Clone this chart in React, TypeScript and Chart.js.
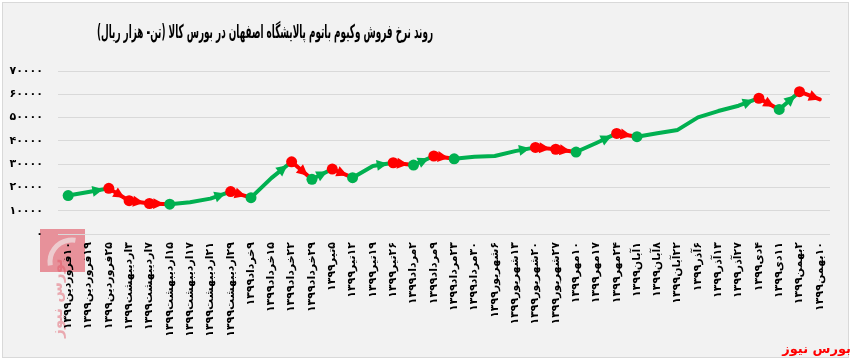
import React, { useEffect, useRef } from 'react';
import { Chart, registerables } from 'chart.js';

Chart.register(...registerables);

const titleText = 'روند نرخ فروش وکیوم باتوم پالایشگاه اصفهان در بورس کالا (تن- هزار ریال)';
const sourceText = 'بورس نیوز';

const categories = [
  '۱۰فروردین۱۳۹۹', '۱۹فروردین۱۳۹۹', '۲۵فروردین۱۳۹۹', '۳اردیبهشت۱۳۹۹', '۷اردیبهشت۱۳۹۹',
  '۱۵اردیبهشت۱۳۹۹', '۱۷اردیبهشت۱۳۹۹', '۲۱اردیبهشت۱۳۹۹', '۲۹اردیبهشت۱۳۹۹', '۹خرداد۱۳۹۹',
  '۱۵خرداد۱۳۹۹', '۲۲خرداد۱۳۹۹', '۲۹خرداد۱۳۹۹', '۵تیر۱۳۹۹', '۱۲تیر۱۳۹۹',
  '۱۹تیر۱۳۹۹', '۲۶تیر۱۳۹۹', '۲مرداد۱۳۹۹', '۹مرداد۱۳۹۹', '۲۳مرداد۱۳۹۹',
  '۳۰مرداد۱۳۹۹', '۶شهریور۱۳۹۹', '۱۳شهریور۱۳۹۹', '۲۰شهریور۱۳۹۹', '۲۷شهریور۱۳۹۹',
  '۱۰مهر۱۳۹۹', '۱۷مهر۱۳۹۹', '۲۴مهر۱۳۹۹', '۱آبان۱۳۹۹', '۸آبان۱۳۹۹',
  '۲۲آبان۱۳۹۹', '۶آذر۱۳۹۹', '۱۳آذر۱۳۹۹', '۲۷آذر۱۳۹۹', '۴دی۱۳۹۹',
  '۱۱دی۱۳۹۹', '۲بهمن۱۳۹۹', '۱۰بهمن۱۳۹۹',
];

const prices = [
  16500, 18000, 19600, 14300, 13100,
  12800, 13600, 15200, 18200, 15600,
  24000, 31000, 23500, 27900, 24200,
  29200, 30600, 29600, 33500, 32300,
  33200, 33500, 35600, 37200, 36400,
  35200, 39100, 43200, 41800, 43300,
  44700, 50100, 52800, 55100, 58300,
  53500, 61100, 57800,
];

const yMin = 0;
const yMax = 70000;
const yStep = 10000;

const GREEN = '#00B050';
const RED = '#FF0000';
const FONT = '"DejaVu Sans", sans-serif';
const MARKER_R = 5.5;

const faDigits = '۰۱۲۳۴۵۶۷۸۹';
const toFa = (v: number | string) => String(v).replace(/\d/g, (d) => faDigits[+d]);

const isDown = (i: number) => prices[i + 1] < prices[i];
const markerColor = (i: number): string | null => {
  if (i >= prices.length - 1) return null;
  if (isDown(i)) return RED;
  if (i === 0 || isDown(i - 1)) return GREEN;
  return null;
};

const drawFitted = (ctx: any, text: string, cx: number, cy: number, maxW: number) => {
  const w = ctx.measureText(text).width;
  const s = w > maxW ? maxW / w : 1;
  ctx.save();
  ctx.translate(cx, cy);
  ctx.scale(s, 1);
  ctx.fillText(text, 0, 0);
  ctx.restore();
};

const framePlugin = {
  id: 'frame',
  beforeDraw(chart: any) {
    const { ctx, width, height } = chart;
    ctx.save();
    ctx.fillStyle = '#FFFFFF';
    ctx.fillRect(0, 0, width, height);
    ctx.fillStyle = '#F2F2F2';
    ctx.fillRect(2, 2, width - 6, height - 7);
    ctx.strokeStyle = '#D9D9D9';
    ctx.lineWidth = 1;
    ctx.strokeRect(2.5, 2.5, width - 7, height - 8);

    // watermark logo
    ctx.globalAlpha = 0.6;
    ctx.fillStyle = '#E0505F';
    ctx.fillRect(40, 229, 45, 43);
    ctx.strokeStyle = '#F2F2F2';
    ctx.lineWidth = 5;
    ctx.beginPath();
    ctx.arc(72, 262, 22, Math.PI * 0.95, Math.PI * 1.55);
    ctx.stroke();
    ctx.globalAlpha = 0.45;
    ctx.fillStyle = '#E0505F';
    ctx.translate(58, 298);
    ctx.rotate(-Math.PI / 2);
    ctx.font = `bold 15px ${FONT}`;
    ctx.direction = 'rtl';
    ctx.textAlign = 'center';
    ctx.textBaseline = 'middle';
    ctx.fillText(sourceText, 0, 0);
    ctx.restore();

    // title
    ctx.save();
    ctx.direction = 'rtl';
    ctx.font = `bold 19px ${FONT}`;
    ctx.fillStyle = '#000000';
    ctx.textAlign = 'center';
    ctx.textBaseline = 'middle';
    drawFitted(ctx, titleText, 265, 33, 336);
    ctx.restore();

    // source
    ctx.save();
    ctx.direction = 'rtl';
    ctx.font = `bold 13px ${FONT}`;
    ctx.fillStyle = RED;
    ctx.textAlign = 'right';
    ctx.textBaseline = 'middle';
    ctx.fillText(sourceText, 851, 350);
    ctx.restore();
  },
};

const arrowPlugin = {
  id: 'arrows',
  afterDatasetsDraw(chart: any) {
    const meta = chart.getDatasetMeta(0);
    const pts = meta.data;
    const ctx = chart.ctx;
    ctx.save();
    for (let i = 0; i < pts.length - 1; i++) {
      const down = isDown(i);
      const endOfRun = down || i + 1 === pts.length - 1 || isDown(i + 1);
      if (!endOfRun) continue;
      const p = pts[i + 1];
      const q = pts[i];
      const len = Math.hypot(p.x - q.x, p.y - q.y) || 1;
      const ux = (p.x - q.x) / len;
      const uy = (p.y - q.y) / len;
      const r = markerColor(i + 1) ? MARKER_R : 0;
      const tx = p.x - ux * r;
      const ty = p.y - uy * r;
      const L = 11;
      const W = 5.5;
      const bx = tx - ux * L;
      const by = ty - uy * L;
      ctx.fillStyle = down ? RED : GREEN;
      ctx.beginPath();
      ctx.moveTo(tx, ty);
      ctx.lineTo(bx - uy * W, by + ux * W);
      ctx.lineTo(bx + uy * W, by - ux * W);
      ctx.closePath();
      ctx.fill();
    }
    ctx.restore();
  },
};

export default function App() {
  const canvasRef = useRef<HTMLCanvasElement | null>(null);

  useEffect(() => {
    if (!canvasRef.current) return;
    const chart = new Chart(canvasRef.current, {
      type: 'line',
      data: {
        labels: categories,
        datasets: [
          {
            data: prices,
            borderWidth: 4,
            tension: 0,
            borderCapStyle: 'round',
            borderJoinStyle: 'round',
            segment: {
              borderColor: (c: any) => (c.p1.parsed.y < c.p0.parsed.y ? RED : GREEN),
            },
            borderColor: GREEN,
            pointRadius: prices.map((_, i) => (markerColor(i) ? MARKER_R : 0)),
            pointHoverRadius: prices.map((_, i) => (markerColor(i) ? MARKER_R : 0)),
            pointBackgroundColor: prices.map((_, i) => markerColor(i) || GREEN),
            pointBorderColor: prices.map((_, i) => markerColor(i) || GREEN),
            pointBorderWidth: 0,
          },
        ],
      },
      options: {
        animation: false,
        responsive: true,
        maintainAspectRatio: false,
        layout: { padding: { top: 71, right: 23, left: 0, bottom: 0 } },
        plugins: {
          legend: { display: false },
          tooltip: { enabled: false },
          title: { display: false },
        },
        scales: {
          x: {
            offset: true,
            grid: { display: false, drawTicks: false },
            border: { display: false },
            ticks: {
              autoSkip: false,
              maxRotation: 90,
              minRotation: 90,
              padding: 8,
              color: '#000000',
              font: { family: FONT, size: 11, weight: 'bold' },
            },
            afterFit: (scale: any) => {
              scale.height = 129;
            },
          },
          y: {
            min: yMin,
            max: yMax,
            grid: { color: '#D9D9D9', lineWidth: 1, drawTicks: false },
            border: { display: false },
            ticks: {
              stepSize: yStep,
              padding: 15,
              color: '#000000',
              font: { family: FONT, size: 11, weight: 'bold' },
              callback: (v: any) => toFa(v),
            },
            afterFit: (scale: any) => {
              scale.width = 58;
            },
          },
        },
      },
      plugins: [framePlugin, arrowPlugin],
    });
    return () => chart.destroy();
  }, []);

  return (
    <div style={{ position: 'fixed', left: 0, top: 0, width: 853, height: 363 }}>
      <canvas ref={canvasRef} dir="rtl" />
    </div>
  );
}
